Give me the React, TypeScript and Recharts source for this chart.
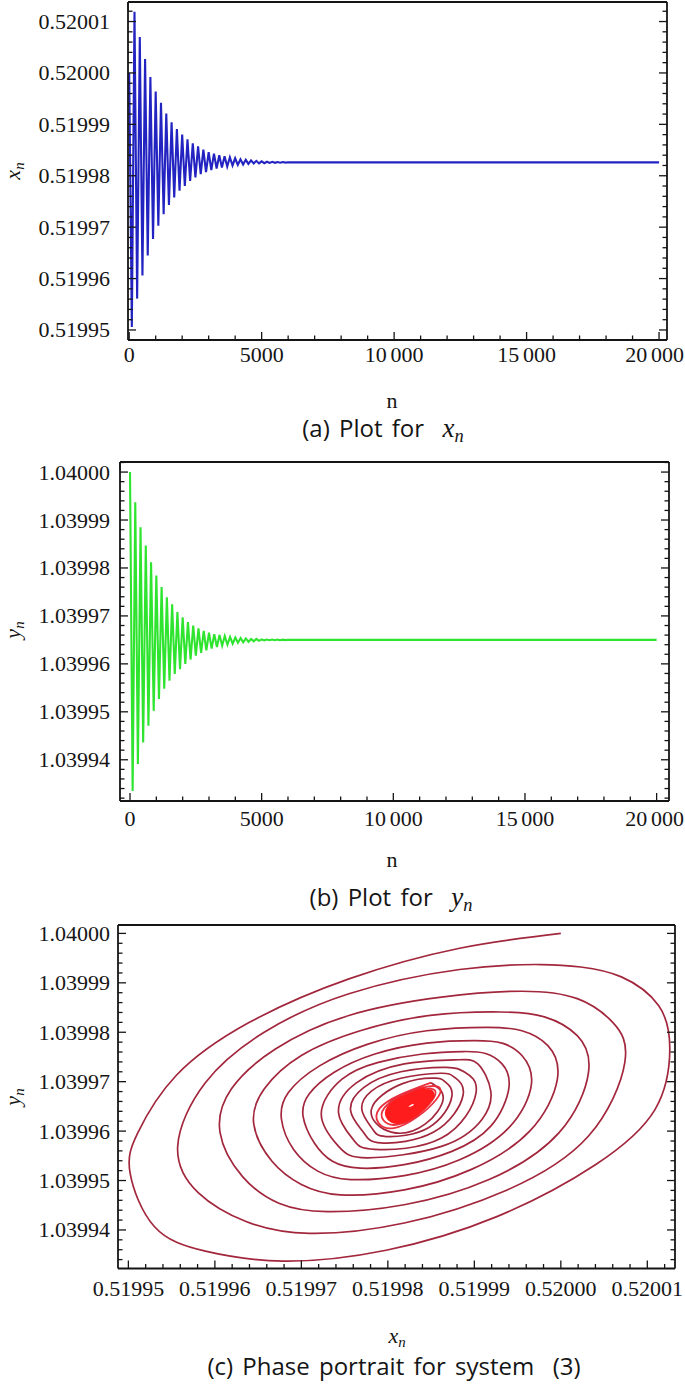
import React from 'react';
import { LineChart, Line, XAxis, YAxis } from 'recharts';

// n where the iterates turn (local max / min), then the flat tail
const turnN = [
  0, 100, 200, 300, 400, 500, 600, 700, 800, 900, 1000, 1100, 1200, 1300, 1400, 1500, 1600, 1700,
  1800, 1900, 2000, 2100, 2200, 2300, 2400, 2500, 2600, 2700, 2800, 2900, 3000, 3100, 3200, 3300,
  3400, 3500, 3600, 3700, 3800, 3900, 4000, 4100, 4200, 4300, 4400, 4500, 4600, 4700, 4800, 4900,
  5000, 5100, 5200, 5300, 5400, 5500, 5600, 5700, 5800, 5900, 6000, 6200, 20000,
];

const xTurn = [
  0.52, 0.5199506, 0.5200119, 0.5199561, 0.520007, 0.5199606, 0.5200027, 0.5199645, 0.5199992,
  0.5199677, 0.5199964, 0.5199703, 0.5199942, 0.5199725, 0.5199921, 0.5199743, 0.5199904, 0.5199758,
  0.5199891, 0.5199771, 0.519988, 0.519978, 0.5199871, 0.519979, 0.5199863, 0.5199797, 0.5199857,
  0.5199803, 0.5199851, 0.5199807, 0.5199846, 0.5199811, 0.5199843, 0.5199814, 0.519984, 0.5199816,
  0.5199838, 0.5199818, 0.5199836, 0.519982, 0.5199834, 0.5199821, 0.5199832, 0.5199822, 0.5199831,
  0.5199823, 0.519983, 0.5199824, 0.5199829, 0.5199824, 0.5199828, 0.51998245, 0.51998272, 0.51998249,
  0.5199827, 0.51998251, 0.51998268, 0.51998253, 0.51998266, 0.51998255, 0.51998264, 0.5199826, 0.5199826,
];

const yTurn = [
  1.04, 1.0399335, 1.0399937, 1.0399391, 1.0399885, 1.0399436, 1.0399847, 1.0399471, 1.0399812,
  1.0399502, 1.0399784, 1.0399527, 1.039976, 1.0399548, 1.0399739, 1.0399565, 1.0399724, 1.0399579,
  1.0399708, 1.0399589, 1.0399697, 1.03996, 1.0399687, 1.0399609, 1.039968, 1.0399617, 1.0399674,
  1.0399623, 1.0399669, 1.0399628, 1.0399665, 1.0399632, 1.0399662, 1.0399635, 1.039966, 1.0399638,
  1.0399658, 1.039964, 1.0399656, 1.0399642, 1.0399655, 1.0399644, 1.0399654, 1.0399645, 1.0399653,
  1.0399646, 1.0399652, 1.0399647, 1.0399652, 1.0399648, 1.0399651, 1.0399649, 1.03996508, 1.03996492,
  1.03996507, 1.03996493, 1.03996506, 1.03996494, 1.03996505, 1.03996495, 1.03996504, 1.039965, 1.039965,
];

// phase portrait, outer turns (read along the curve from the start point)
const phaseX = [
  0.52, 0.5199883, 0.5199755, 0.519964, 0.5199555, 0.5199511, 0.5199502, 0.519953, 0.5199589, 0.5199679,
  0.5199798, 0.5199926, 0.520004, 0.5200109, 0.5200126, 0.5200113, 0.520007, 0.5200023, 0.5199977,
  0.5199883, 0.5199755, 0.5199657, 0.5199589, 0.5199557, 0.5199581, 0.5199636, 0.5199709, 0.5199819,
  0.5199938, 0.5200032, 0.5200074, 0.520006, 0.5200019, 0.5199955,
  0.5199862, 0.5199755, 0.519967, 0.5199619, 0.5199606, 0.5199632, 0.5199674, 0.519973, 0.5199819,
  0.5199917, 0.5199998, 0.5200032, 0.5200019, 0.5199981, 0.519993,
  0.5199849, 0.5199768, 0.51997, 0.5199657, 0.5199645, 0.5199666, 0.51997, 0.5199745, 0.5199819,
  0.5199896, 0.5199964, 0.5199996, 0.5199985, 0.5199955, 0.5199915,
  0.5199845, 0.5199777, 0.5199721, 0.5199685, 0.5199677, 0.5199691, 0.5199719, 0.5199757, 0.5199819,
  0.5199883, 0.519994, 0.5199966, 0.5199955, 0.5199932, 0.51999,
  0.5199845, 0.5199785, 0.5199738, 0.5199709, 0.5199702, 0.5199715, 0.5199736, 0.5199768, 0.5199819,
  0.5199874, 0.5199919, 0.519994, 0.5199932, 0.5199913, 0.5199887,
  0.519984, 0.5199789, 0.5199747, 0.5199723, 0.5199743, 0.5199777, 0.5199862, 0.5199909, 0.5199919,
  0.5199904, 0.5199877,
  0.5199819, 0.5199764, 0.5199743, 0.519976, 0.5199785, 0.5199862, 0.5199902, 0.5199889, 0.5199868,
  0.5199815, 0.5199772, 0.5199757, 0.5199772, 0.5199792, 0.5199853, 0.5199887, 0.5199877, 0.5199861,
  0.5199815, 0.5199781, 0.519977, 0.5199782, 0.5199798, 0.5199847, 0.5199874, 0.5199866, 0.5199855,
  0.5199817, 0.5199781, 0.5199804, 0.5199843, 0.5199864, 0.519985,
];
const phaseY = [
  1.04, 1.039997, 1.0399908, 1.039982, 1.0399712, 1.0399597, 1.0399515, 1.0399407, 1.0399357, 1.0399337,
  1.0399359, 1.0399427, 1.0399532, 1.0399644, 1.0399766, 1.0399854, 1.0399912, 1.0399932, 1.0399937,
  1.0399927, 1.0399878, 1.03998, 1.0399698, 1.0399569, 1.0399475, 1.0399417, 1.0399393, 1.0399414,
  1.0399481, 1.039959, 1.0399739, 1.039982, 1.0399868, 1.0399883,
  1.0399871, 1.0399834, 1.0399766, 1.0399685, 1.0399597, 1.0399508, 1.0399454, 1.0399437, 1.0399451,
  1.0399502, 1.0399597, 1.0399719, 1.0399793, 1.0399831, 1.0399841,
  1.0399834, 1.0399803, 1.0399753, 1.0399685, 1.0399614, 1.0399539, 1.0399492, 1.0399471, 1.0399481,
  1.0399522, 1.03996, 1.0399705, 1.0399773, 1.0399803, 1.039981,
  1.0399803, 1.0399776, 1.0399732, 1.0399678, 1.0399624, 1.0399563, 1.0399519, 1.0399502, 1.039951,
  1.0399542, 1.0399607, 1.0399695, 1.0399753, 1.0399778, 1.0399783,
  1.0399778, 1.0399756, 1.0399719, 1.0399675, 1.039963, 1.0399576, 1.0399539, 1.0399525, 1.0399532,
  1.0399559, 1.039961, 1.0399688, 1.0399736, 1.0399757, 1.0399761,
  1.0399756, 1.0399739, 1.0399705, 1.0399634, 1.0399569, 1.0399546, 1.0399569, 1.0399624, 1.0399681,
  1.0399736, 1.0399744,
  1.0399736, 1.0399698, 1.0399637, 1.0399583, 1.0399563, 1.0399586, 1.0399678, 1.0399719, 1.0399729,
  1.039972, 1.0399688, 1.0399641, 1.0399597, 1.0399576, 1.0399598, 1.0399673, 1.0399709, 1.0399717,
  1.0399707, 1.0399681, 1.0399643, 1.0399605, 1.0399589, 1.0399607, 1.039967, 1.03997, 1.0399707,
  1.0399696, 1.0399644, 1.0399598, 1.0399614, 1.0399666, 1.0399698,
];

// the dense core of the spiral (left, bottom, right, top of each small turn)
const coreX = [
  0.519985,
  0.519979, 0.5199807, 0.5199856, 0.5199846, 0.5199796, 0.5199811, 0.5199851, 0.5199843,
  0.5199801, 0.5199814, 0.5199848, 0.5199841, 0.5199805, 0.5199816, 0.5199845, 0.5199839,
  0.5199809, 0.5199819, 0.5199843, 0.5199838, 0.5199812, 0.519982, 0.5199841, 0.5199837,
  0.5199815, 0.5199822, 0.5199839, 0.5199836, 0.5199817, 0.5199823, 0.5199838, 0.5199835,
  0.5199819, 0.5199824, 0.5199837, 0.5199834, 0.5199821, 0.5199825, 0.5199836, 0.5199833,
  0.5199822, 0.5199826, 0.5199835, 0.5199833, 0.519983,
];
const coreY = [
  1.0399698,
  1.0399645, 1.0399606, 1.0399664, 1.039969, 1.0399647, 1.0399613, 1.0399662, 1.0399685,
  1.0399647, 1.0399619, 1.0399661, 1.039968, 1.0399649, 1.0399625, 1.0399659, 1.0399676,
  1.0399649, 1.0399629, 1.0399659, 1.0399672, 1.039965, 1.0399633, 1.0399658, 1.039967,
  1.0399651, 1.0399636, 1.0399657, 1.0399668, 1.0399651, 1.0399638, 1.0399657, 1.0399666,
  1.0399652, 1.0399641, 1.0399657, 1.0399664, 1.0399652, 1.0399643, 1.0399656, 1.0399662,
  1.0399652, 1.0399645, 1.0399656, 1.0399661, 1.0399654,
];

const nMajor = [0, 5000, 10000, 15000, 20000];
const xMajor = [0.51995, 0.51996, 0.51997, 0.51998, 0.51999, 0.52, 0.52001];
const yMajor = [1.03994, 1.03995, 1.03996, 1.03997, 1.03998, 1.03999, 1.04];

const SERIF = '"Liberation Serif", "Times New Roman", serif';
const SANS = '"Open Sans", "Noto Sans", sans-serif';
const INK = '#151515';

function stepTicks(lo: number, hi: number, step: number) {
  const out: number[] = [];
  for (let k = Math.ceil(lo / step - 1e-9); k * step <= hi + 1e-12; k++) {
    out.push(Number((k * step).toPrecision(12)));
  }
  return out;
}

const nFmt = (v: number) => (v >= 10000 ? `${v / 1000}\u2006000` : `${v}`);
const dFmt = (v: number) => v.toFixed(5);

type Side = 'bottom' | 'top' | 'left' | 'right';

// Mathematica-style frame ticks: pointing inwards, labels only on bottom/left majors
function frameTick(side: Side, majors: number[], fmt: ((v: number) => string) | null, gap: number) {
  return (p: any) => {
    const v = Number(p.payload.value);
    const major = majors.some((m) => Math.abs(m - v) < 1e-9);
    const len = major ? 8 : 4.5;
    const x = p.x;
    const y = p.y;
    let x2 = x;
    let y2 = y;
    if (side === 'bottom') y2 = y - len;
    if (side === 'top') y2 = y + len;
    if (side === 'left') x2 = x + len;
    if (side === 'right') x2 = x - len;
    // keep the last bottom label inside the page
    const tooFar = side === 'bottom' && x + 28 > 684;
    return (
      <g>
        <line x1={x} y1={y} x2={x2} y2={y2} stroke={INK} strokeWidth={1.3} />
        {major && fmt && side === 'bottom' && (
          <text x={tooFar ? 684 : x} y={y + gap} textAnchor={tooFar ? 'end' : 'middle'}
            fontFamily={SERIF} fontSize={22} fill={INK}>
            {fmt(v)}
          </text>
        )}
        {major && fmt && side === 'left' && (
          <text x={x - gap} y={y + 7.5} textAnchor="end" fontFamily={SERIF} fontSize={22} fill={INK}>
            {fmt(v)}
          </text>
        )}
      </g>
    );
  };
}

interface FrameOpts {
  xKey: string;
  xDomain: [number, number];
  yDomain: [number, number];
  xStep: number;
  yStep: number;
  xMajors: number[];
  yMajors: number[];
  xFmt: (v: number) => string;
  yFmt: (v: number) => string;
  topH: number;
  bottomH: number;
  leftW: number;
  rightW: number;
  bottomGap: number;
  leftGap: number;
}

function frameAxes(o: FrameOpts) {
  const xt = stepTicks(o.xDomain[0], o.xDomain[1], o.xStep);
  const yt = stepTicks(o.yDomain[0], o.yDomain[1], o.yStep);
  const line = { stroke: INK, strokeWidth: 1.8 };
  return [
    <XAxis key="b" xAxisId="b" orientation="bottom" dataKey={o.xKey} type="number" domain={o.xDomain}
      allowDataOverflow ticks={xt} interval={0} tickLine={false} tickSize={0} tickMargin={0}
      height={o.bottomH} axisLine={line} tick={frameTick('bottom', o.xMajors, o.xFmt, o.bottomGap)} />,
    <XAxis key="t" xAxisId="t" orientation="top" type="number" domain={o.xDomain}
      allowDataOverflow ticks={xt} interval={0} tickLine={false} tickSize={0} tickMargin={0}
      height={o.topH} axisLine={line} tick={frameTick('top', o.xMajors, null, 0)} />,
    <YAxis key="l" yAxisId="l" orientation="left" type="number" domain={o.yDomain}
      allowDataOverflow ticks={yt} interval={0} tickLine={false} tickSize={0} tickMargin={0}
      width={o.leftW} axisLine={line} tick={frameTick('left', o.yMajors, o.yFmt, o.leftGap)} />,
    <YAxis key="r" yAxisId="r" orientation="right" type="number" domain={o.yDomain}
      allowDataOverflow ticks={yt} interval={0} tickLine={false} tickSize={0} tickMargin={0}
      width={o.rightW} axisLine={line} tick={frameTick('right', o.yMajors, null, 0)} />,
  ];
}

function Sym({ s, size }: { s: string; size: number }) {
  return (
    <span style={{ fontFamily: SERIF, fontStyle: 'italic', fontSize: size }}>
      {s}
      <sub style={{ fontSize: size * 0.68, verticalAlign: '-0.25em', lineHeight: 0 }}>n</sub>
    </span>
  );
}

function Txt({ cx, cy, h = 26, rotate, style, children }: any) {
  return (
    <div
      style={{
        position: 'absolute', left: cx - 300, top: cy - h / 2, width: 600, height: h,
        lineHeight: `${h}px`, textAlign: 'center', whiteSpace: 'nowrap', color: INK,
        transform: rotate ? 'rotate(-90deg)' : undefined, ...style,
      }}
    >
      {children}
    </div>
  );
}

export default function App() {
  const dataA = turnN.map((n, i) => ({ n, x: xTurn[i] }));
  const dataB = turnN.map((n, i) => ({ n, y: yTurn[i] }));
  const spiral = phaseX.map((px, i) => ({ px, py: phaseY[i] }));
  const core = coreX.map((px, i) => ({ px, py: coreY[i] }));
  const blob = core.slice(8);
  const noMargin = { top: 0, right: 0, bottom: 0, left: 0 };
  const caption = { fontFamily: SANS, fontSize: 24, wordSpacing: 3 };
  const axisName = { fontFamily: SERIF, fontSize: 22 };

  return (
    <div style={{ position: 'absolute', left: 0, top: 0, width: 685, height: 1385, background: '#fff', overflow: 'hidden' }}>
      <div style={{ position: 'absolute', left: 0, top: 0 }}>
        <LineChart width={685} height={380} data={dataA} margin={noMargin}>
          {frameAxes({
            xKey: 'n', xDomain: [-45, 20300], yDomain: [0.51994805, 0.5200138], xStep: 1000, yStep: 0.000002,
            xMajors: nMajor, yMajors: xMajor, xFmt: nFmt, yFmt: dFmt,
            topH: 2, bottomH: 40, leftW: 128, rightW: 18, bottomGap: 22, leftGap: 18,
          })}
          <Line xAxisId="b" yAxisId="l" dataKey="x" type="linear" stroke="#2323c2" strokeWidth={2.1}
            dot={false} isAnimationActive={false} />
        </LineChart>
      </div>
      <Txt cx={13} cy={171} rotate><Sym s="x" size={22} /></Txt>
      <Txt cx={392} cy={401} h={24} style={axisName}>n</Txt>
      <Txt cx={383} cy={428} h={30} style={caption}>(a) Plot for{'\u00a0\u00a0'}<Sym s="x" size={27} /></Txt>

      <div style={{ position: 'absolute', left: 0, top: 440 }}>
        <LineChart width={685} height={400} data={dataB} margin={noMargin}>
          {frameAxes({
            xKey: 'n', xDomain: [-380, 20470], yDomain: [1.0399314, 1.0400021], xStep: 1000, yStep: 0.000002,
            xMajors: nMajor, yMajors: yMajor, xFmt: nFmt, yFmt: dFmt,
            topH: 22, bottomH: 39, leftW: 120, rightW: 16, bottomGap: 25, leftGap: 10,
          })}
          <Line xAxisId="b" yAxisId="l" dataKey="y" type="linear" stroke="#2fe42f" strokeWidth={2.1}
            dot={false} isAnimationActive={false} />
        </LineChart>
      </div>
      <Txt cx={13} cy={630} rotate><Sym s="y" size={22} /></Txt>
      <Txt cx={392} cy={860} h={24} style={axisName}>n</Txt>
      <Txt cx={391} cy={897} h={30} style={caption}>(b) Plot for{'\u00a0\u00a0'}<Sym s="y" size={27} /></Txt>

      <div style={{ position: 'absolute', left: 0, top: 900 }}>
        <LineChart width={685} height={400} margin={noMargin}>
          {frameAxes({
            xKey: 'px', xDomain: [0.5199488, 0.5200132], yDomain: [1.0399322, 1.0400017], xStep: 0.000002,
            yStep: 0.000002, xMajors: xMajor, yMajors: yMajor, xFmt: dFmt, yFmt: dFmt,
            topH: 25, bottomH: 31.5, leftW: 118, rightW: 10, bottomGap: 27, leftGap: 8,
          })}
          <Line data={spiral} xAxisId="b" yAxisId="l" dataKey="py" type="natural" stroke="#a2273d"
            strokeWidth={1.7} dot={false} isAnimationActive={false} />
          <Line data={core} xAxisId="b" yAxisId="l" dataKey="py" type="natural" stroke="#e8303e"
            strokeWidth={1.8} dot={false} isAnimationActive={false} />
          <Line data={blob} xAxisId="b" yAxisId="l" dataKey="py" type="natural" stroke="#ff1c1c"
            strokeWidth={4.2} dot={false} isAnimationActive={false} />
        </LineChart>
      </div>
      <Txt cx={13} cy={1097} rotate><Sym s="y" size={22} /></Txt>
      <Txt cx={397} cy={1336} h={24}><Sym s="x" size={22} /></Txt>
      <Txt cx={394} cy={1366} h={28} style={caption}>(c) Phase portrait for system{'\u00a0\u00a0'}(3)</Txt>
    </div>
  );
}
